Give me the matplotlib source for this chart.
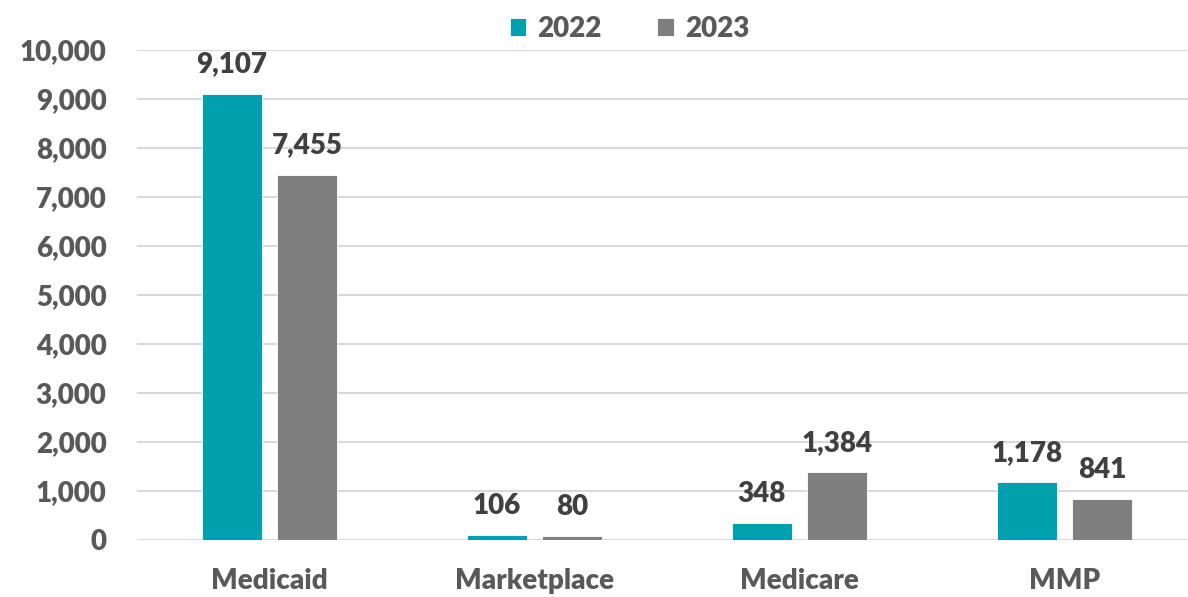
import matplotlib
matplotlib.use("Agg")
import matplotlib.pyplot as plt
import numpy as np

categories = ["Medicaid", "Marketplace", "Medicare", "MMP"]
series_names = ["2022", "2023"]
values_2022 = [9107, 106, 348, 1178]
values_2023 = [7455, 80, 1384, 841]
yticks = list(range(0, 10001, 1000))

colors = ["#00A0AE", "#7F7F7F"]
plt.rcParams['font.family'] = ['Lato', 'DejaVu Sans']
WT = 'heavy'

fig = plt.figure(figsize=(11.88, 5.97), dpi=100)
ax = fig.add_axes([137/1188, 57/597, 1060/1188, 490/597])

x = np.arange(len(categories))
w = 0.226
off = 0.142
for vals, name, c, d in [(values_2022, series_names[0], colors[0], -off),
                         (values_2023, series_names[1], colors[1], off)]:
    bars = ax.bar(x + d, vals, w, color=c, label=name, zorder=3, edgecolor='white', linewidth=0.6)
    for b, v in zip(bars, vals):
        ax.text(b.get_x() + b.get_width()/2, v + 330, f"{v:,}", ha='center', va='bottom',
                fontsize=20, fontweight=WT, color='#404040')

ax.set_xlim(-0.5, 3.5)
ax.set_ylim(0, 10000)
ax.set_yticks(yticks)
ax.set_yticklabels([f"{t:,}" for t in yticks], fontsize=20, fontweight=WT, color='#595959')
ax.set_xticks(x)
ax.set_xticklabels(categories, fontsize=20, fontweight=WT, color='#595959')
ax.tick_params(axis='both', length=0)
ax.tick_params(axis='y', pad=22)
ax.tick_params(axis='x', pad=20)
ax.grid(axis='y', color='#D9D9D9', linewidth=1.5, zorder=0)
for s in ax.spines.values():
    s.set_visible(False)

leg = fig.legend(loc='upper center', bbox_to_anchor=(0.53, 1.015), ncol=2, frameon=False,
                 prop={'size': 20, 'weight': WT}, handlelength=0.6, handleheight=0.6,
                 columnspacing=2.0, handletextpad=0.4)
for t in leg.get_texts():
    t.set_color('#595959')

fig.savefig("out.png", dpi=100)
